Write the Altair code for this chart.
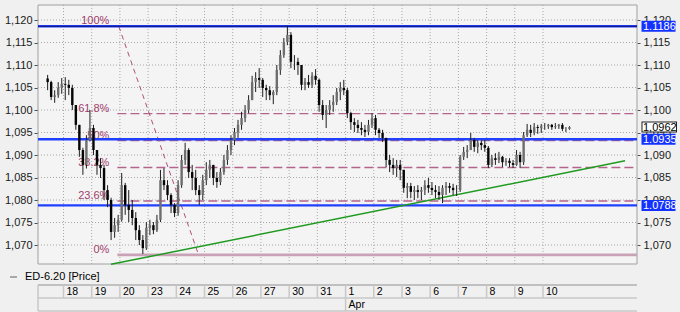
import altair as alt
import pandas as pd

# ---------------- data ----------------
day_labels = ["18", "19", "20", "23", "24", "25", "26", "27", "30", "31",
              "1", "2", "3", "6", "7", "8", "9", "10"]
month_labels = ["Apr"]
month_first_day = [10]          # index in day_labels where April starts

bars_per_day = 8
first_session_bars = 5          # partial 17 Mar session at the left edge
first_open = 1.1070

close_ = [
    # 17 Mar (partial)
    1.1062, 1.1029, 1.1033, 1.1049, 1.1058,
    # 18
    1.1056, 1.1049, 1.1011, 1.0967, 1.0911, 1.0878, 1.0933, 1.0960,
    # 19
    1.0911, 1.0878, 1.0871, 1.0822, 1.0800, 1.0729, 1.0744, 1.0756,
    # 20
    1.0833, 1.0789, 1.0778, 1.0760, 1.0733, 1.0711, 1.0693, 1.0738,
    # 23
    1.0744, 1.0733, 1.0756, 1.0844, 1.0833, 1.0811, 1.0789, 1.0771,
    # 24
    1.0833, 1.0889, 1.0911, 1.0862, 1.0849, 1.0822, 1.0811, 1.0844,
    # 25
    1.0867, 1.0878, 1.0849, 1.0840, 1.0862, 1.0889, 1.0911, 1.0933,
    # 26
    1.0951, 1.0967, 1.0982, 1.1000, 1.1022, 1.1062, 1.1071, 1.1067,
    # 27
    1.1049, 1.1044, 1.1033, 1.1040, 1.1089, 1.1122, 1.1151, 1.1167,
    # 30
    1.1107, 1.1107, 1.1100, 1.1056, 1.1062, 1.1056, 1.1076, 1.1067,
    # 31
    1.1011, 1.0989, 1.1000, 1.1011, 1.1018, 1.1040, 1.1049, 1.1044,
    # 1 Apr
    1.0993, 1.0973, 1.0967, 1.0960, 1.0956, 1.0951, 1.0967, 1.0982,
    # 2
    1.0956, 1.0949, 1.0938, 1.0889, 1.0878, 1.0871, 1.0878, 1.0867,
    # 3
    1.0827, 1.0831, 1.0818, 1.0822, 1.0818, 1.0822, 1.0833, 1.0827,
    # 6
    1.0822, 1.0818, 1.0811, 1.0827, 1.0831, 1.0827, 1.0822, 1.0822,
    # 7
    1.0896, 1.0907, 1.0911, 1.0933, 1.0918, 1.0927, 1.0922, 1.0916,
    # 8
    1.0878, 1.0893, 1.0889, 1.0896, 1.0884, 1.0887, 1.0882, 1.0878,
    # 9
    1.0900, 1.0884, 1.0944, 1.0956, 1.0949, 1.0962, 1.0960, 1.0964,
    # 10
    1.0964, 1.0967, 1.0962, 1.0964, 1.0967, 1.0958, 1.0958, 1.0962,
]
high_ = [
    1.1078, 1.1065, 1.1044, 1.1062, 1.1071,
    1.1073, 1.1067, 1.1056, 1.1011, 1.0967, 1.0916, 1.0944, 1.1000,
    1.0967, 1.0911, 1.0893, 1.0878, 1.0833, 1.0805, 1.0760, 1.0767,
    1.0860, 1.0838, 1.0822, 1.0800, 1.0773, 1.0744, 1.0722, 1.0751,
    1.0756, 1.0751, 1.0767, 1.0867, 1.0871, 1.0844, 1.0815, 1.0793,
    1.0844, 1.0900, 1.0927, 1.0915, 1.0878, 1.0867, 1.0833, 1.0856,
    1.0884, 1.0889, 1.0878, 1.0862, 1.0871, 1.0900, 1.0922, 1.0944,
    1.0960, 1.0978, 1.0996, 1.1011, 1.1033, 1.1076, 1.1084, 1.1093,
    1.1071, 1.1056, 1.1053, 1.1044, 1.1100, 1.1133, 1.1160, 1.1187,
    1.1173, 1.1122, 1.1116, 1.1100, 1.1071, 1.1078, 1.1084, 1.1091,
    1.1070, 1.1022, 1.1011, 1.1022, 1.1033, 1.1049, 1.1062, 1.1067,
    1.1049, 1.0996, 1.0982, 1.0978, 1.0973, 1.0967, 1.0978, 1.0993,
    1.0989, 1.0960, 1.0956, 1.0938, 1.0900, 1.0893, 1.0889, 1.0889,
    1.0867, 1.0838, 1.0838, 1.0831, 1.0833, 1.0829, 1.0844, 1.0849,
    1.0840, 1.0833, 1.0831, 1.0833, 1.0840, 1.0838, 1.0836, 1.0833,
    1.0900, 1.0918, 1.0922, 1.0949, 1.0938, 1.0933, 1.0933, 1.0933,
    1.0920, 1.0900, 1.0904, 1.0907, 1.0898, 1.0893, 1.0893, 1.0889,
    1.0911, 1.0907, 1.0951, 1.0969, 1.0967, 1.0971, 1.0967, 1.0969,
    1.0971, 1.0969, 1.0969, 1.0971, 1.0969, 1.0971, 1.0962, 1.0964,
]
low_ = [
    1.1044, 1.1022, 1.1016, 1.1027, 1.1036,
    1.1022, 1.1033, 1.1000, 1.0956, 1.0896, 1.0856, 1.0870, 1.0930,
    1.0900, 1.0856, 1.0849, 1.0800, 1.0784, 1.0711, 1.0716, 1.0729,
    1.0752, 1.0767, 1.0751, 1.0744, 1.0711, 1.0700, 1.0680, 1.0689,
    1.0722, 1.0724, 1.0729, 1.0751, 1.0822, 1.0800, 1.0771, 1.0762,
    1.0765, 1.0827, 1.0878, 1.0849, 1.0822, 1.0811, 1.0789, 1.0800,
    1.0833, 1.0849, 1.0833, 1.0827, 1.0833, 1.0856, 1.0878, 1.0900,
    1.0922, 1.0938, 1.0956, 1.0973, 1.0993, 1.1022, 1.1040, 1.1049,
    1.1029, 1.1022, 1.1022, 1.1013, 1.1033, 1.1078, 1.1116, 1.1144,
    1.1093, 1.1089, 1.1078, 1.1044, 1.1044, 1.1049, 1.1049, 1.1056,
    1.0996, 1.0978, 1.0960, 1.0989, 1.0996, 1.1011, 1.1022, 1.1033,
    1.0982, 1.0956, 1.0951, 1.0949, 1.0944, 1.0940, 1.0944, 1.0960,
    1.0944, 1.0938, 1.0929, 1.0873, 1.0862, 1.0856, 1.0851, 1.0844,
    1.0816, 1.0804, 1.0804, 1.0800, 1.0804, 1.0800, 1.0811, 1.0816,
    1.0811, 1.0804, 1.0800, 1.0793, 1.0811, 1.0816, 1.0811, 1.0809,
    1.0818, 1.0889, 1.0893, 1.0911, 1.0907, 1.0904, 1.0911, 1.0907,
    1.0871, 1.0873, 1.0878, 1.0882, 1.0873, 1.0876, 1.0873, 1.0871,
    1.0876, 1.0871, 1.0878, 1.0940, 1.0940, 1.0944, 1.0947, 1.0949,
    1.0956, 1.0958, 1.0956, 1.0958, 1.0958, 1.0953, 1.0951, 1.0956,
]

price_ticks = [1.070, 1.075, 1.080, 1.085, 1.090, 1.095,
               1.100, 1.105, 1.110, 1.115, 1.120]

level_values = [1.1186, 1.0935, 1.0788]
level_labels = ["1.1186", "1.0935", "1.0788"]
last_price = [1.0962]
last_label = ["1,0962"]

fib_low, fib_high = 1.0678, 1.1186
fib_pcts = [1.0, 0.618, 0.5, 0.382, 0.236]
fib_texts = ["100%", "61.8%", "50%", "38.2%", "23.6%", "0%"]
fib_start_day = 1.91
fib_diag_t = [1.96, 4.79]
fib_diag_p = [1.1186, 1.0678]

trend_t = [1.685, 19.91]
trend_p = [1.0657, 1.0887]

legend_text = ["ED-6.20 [Price]"]

# ---------------- frames ----------------
opens = [first_open] + close_[:-1]
cand = pd.DataFrame({
    "t": [(i - first_session_bars + 0.5) / bars_per_day for i in range(len(close_))],
    "open": opens, "high": high_, "low": low_, "close": close_,
})
days = pd.DataFrame({"d": list(range(len(day_labels))), "label": day_labels})
months = pd.DataFrame({"d": month_first_day, "label": month_labels})
ticks = pd.DataFrame({"p": price_ticks})
levels = pd.DataFrame({"p": level_values, "label": level_labels})
last = pd.DataFrame({"p": last_price, "label": last_label})
fib = pd.DataFrame({"p": [fib_low + k * (fib_high - fib_low) for k in fib_pcts],
                    "t": fib_start_day})
fib_lab = pd.DataFrame({"p": [fib_low + k * (fib_high - fib_low) for k in fib_pcts + [0.0]],
                        "label": fib_texts, "t": fib_start_day})
fib0 = pd.DataFrame({"p": [fib_low], "t": [fib_start_day]})
diag = pd.DataFrame({"t": fib_diag_t, "p": fib_diag_p})
trend = pd.DataFrame({"t": trend_t, "p": trend_p})
one = pd.DataFrame({"a": [0]})

W, H, PH = 599, 306, 259
FONT = "Liberation Sans"
XS = alt.Scale(domain=[0, 17], range=[20.5, 510], nice=False, zero=False)
YS = alt.Scale(domain=[1.07, 1.12], range=[240, 15], nice=False, zero=False)


def X(f):
    return alt.X(f, type="quantitative", scale=XS, axis=None)


def Y(f, axis=None):
    return alt.Y(f, type="quantitative", scale=YS, axis=axis)


def hline(y, x1, x2, color, width):
    return alt.Chart(one).mark_rule(color=color, strokeWidth=width).encode(
        x=alt.value(x1), x2=alt.value(x2), y=alt.value(y))


label_expr = "replace(format(datum.value, '.3f'), '.', ',')"
ax_common = dict(values=price_ticks, labelExpr=label_expr, domain=False, grid=False,
                 labelFont=FONT, labelFontSize=11, labelColor="#1a1a1a",
                 tickColor="#505050", title=None)

bg = alt.Chart(one).mark_rect(fill="#f4f4f4", stroke="#a0a0a0", strokeWidth=1).encode(
    x=alt.value(0), x2=alt.value(W), y=alt.value(0), y2=alt.value(PH))

hgrid = alt.Chart(ticks).mark_rule(color="#a8a8a8", strokeDash=[1, 2], strokeWidth=1).encode(
    y=Y("p", alt.Axis(orient="left", tickSize=4, labelPadding=2, **ax_common)),
    x=alt.value(0), x2=alt.value(W))
right_axis = alt.Chart(ticks).mark_point(opacity=0).encode(
    y=Y("p", alt.Axis(orient="right", tickSize=3, labelPadding=3, **ax_common)),
    x=alt.value(W))
vgrid = alt.Chart(days).mark_rule(color="#a8a8a8", strokeDash=[1, 2], strokeWidth=1).encode(
    x=X("d"), y=alt.value(0), y2=alt.value(PH))

fib_lines = alt.Chart(fib).mark_rule(color="#b4648c", strokeDash=[9, 4], strokeWidth=1.4).encode(
    x=X("t"), x2=alt.value(W), y=Y("p"))
fib_zero = alt.Chart(fib0).mark_rule(color="#c9a2b6", strokeWidth=2.6).encode(
    x=X("t"), x2=alt.value(W), y=Y("p"))
fib_text = alt.Chart(fib_lab).mark_text(align="right", baseline="alphabetic", dx=-8, dy=-2,
                                        font=FONT, fontSize=11, color="#a03c6c").encode(
    x=X("t"), y=Y("p"), text="label:N")
fib_diag = alt.Chart(diag).mark_line(color="#b0507a", strokeDash=[5, 4], strokeWidth=1).encode(
    x=X("t"), y=Y("p"))

blue_lines = alt.Chart(levels).mark_rule(color="#2040ff", strokeWidth=2.4).encode(
    y=Y("p"), x=alt.value(0), x2=alt.value(W))
top_core = alt.Chart(levels.iloc[[0]]).mark_rule(color="#10107a", strokeWidth=1).encode(
    y=Y("p"), x=alt.value(0), x2=alt.value(W))

trend_line = alt.Chart(trend).mark_line(color="#1f9a1f", strokeWidth=1.5, clip=True).encode(
    x=X("t"), y=Y("p"))

wicks = alt.Chart(cand).mark_rule(color="#1e1e1e", strokeWidth=1).encode(
    x=X("t"), y=Y("low"), y2="high")
bodies = alt.Chart(cand).mark_bar(size=2.4).encode(
    x=X("t"), y=Y("open"), y2="close",
    color=alt.condition("datum.close >= datum.open", alt.value("#6e6e6e"), alt.value("#050505")))

boxes = alt.Chart(levels).mark_rule(color="#1432ff", strokeWidth=11, strokeCap="butt").encode(
    y=Y("p"), x=alt.value(603.5), x2=alt.value(637.5))
box_text = alt.Chart(levels).mark_text(align="left", baseline="middle", dy=0.5, font=FONT,
                                       fontSize=11, color="white").encode(
    y=Y("p"), x=alt.value(605), text="label:N")
last_border = alt.Chart(last).mark_rule(color="#202020", strokeWidth=11, strokeCap="butt").encode(
    y=Y("p"), x=alt.value(603.5), x2=alt.value(639))
last_fill = alt.Chart(last).mark_rule(color="white", strokeWidth=9, strokeCap="butt").encode(
    y=Y("p"), x=alt.value(604.5), x2=alt.value(638))
last_text = alt.Chart(last).mark_text(align="left", baseline="middle", dy=0.5, font=FONT,
                                      fontSize=11, color="#000000").encode(
    y=Y("p"), x=alt.value(605), text="label:N")

# legend + date table below the plot
leg_dash = hline(272, -28, -21, "#606060", 1)
leg_text = alt.Chart(pd.DataFrame({"label": legend_text})).mark_text(
    align="left", baseline="middle", font=FONT, fontSize=11, color="#000").encode(
    x=alt.value(-13), y=alt.value(272), text="label:N")
row_top = hline(280, 0, W, "#c0c0c0", 2)
row_mid = hline(293, 0, W, "#c8c8c8", 1.5)
row_bot = hline(306, 0, W, "#c8c8c8", 1.5)
left_border = alt.Chart(one).mark_rule(color="#c8c8c8", strokeWidth=1.5).encode(
    x=alt.value(0), y=alt.value(280), y2=alt.value(306))
day_sep = alt.Chart(days).mark_rule(color="#c8c8c8", strokeWidth=1.5).encode(
    x=X("d"), y=alt.value(280), y2=alt.value(293))
day_text = alt.Chart(days).mark_text(align="left", baseline="middle", dx=3, font=FONT,
                                     fontSize=10.5, color="#000").encode(
    x=X("d"), y=alt.value(287), text="label:N")
mon_sep = alt.Chart(months).mark_rule(color="#c8c8c8", strokeWidth=1.5).encode(
    x=X("d"), y=alt.value(293), y2=alt.value(306))
mon_text = alt.Chart(months).mark_text(align="left", baseline="middle", dx=3, font=FONT,
                                       fontSize=10.5, color="#000").encode(
    x=X("d"), y=alt.value(300), text="label:N")

chart = alt.layer(
    bg, hgrid, right_axis, vgrid, fib_zero, fib_lines, fib_diag, fib_text,
    blue_lines, top_core, trend_line, wicks, bodies,
    boxes, box_text, last_border, last_fill, last_text,
    leg_dash, leg_text, row_top, row_mid, row_bot, left_border, day_sep, day_text,
    mon_sep, mon_text,
).resolve_axis(y="independent").properties(
    width=W, height=H,
    padding={"left": 38, "top": 5, "right": 43, "bottom": 1},
    autosize=alt.AutoSizeParams(type="none"),
    background="#f0f0f0",
).configure_view(stroke=None)

chart.save("out.html", embed_options={"renderer": "svg", "actions": False})
